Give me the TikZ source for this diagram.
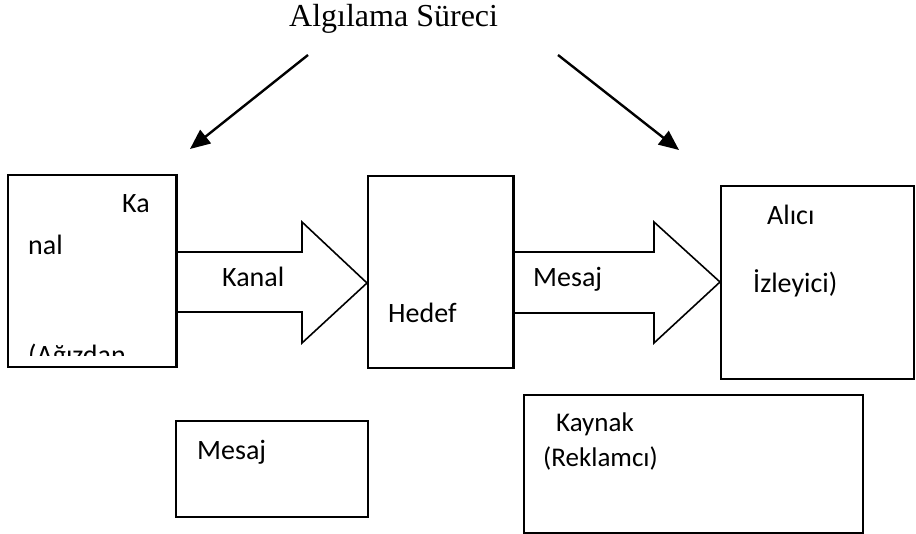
\documentclass[tikz,border=0pt]{standalone}
\usepackage{fontspec}
\setmainfont{Liberation Serif}
\newfontfamily\bodyfont{Carlito}
\usetikzlibrary{arrows.meta}

\tikzset{
  box/.style={draw, line width=2pt, rectangle, inner sep=0pt, anchor=north west},
  lbl/.style={font=\bodyfont\fontsize{28}{32}\selectfont, inner sep=0pt, anchor=base west},
  blockarrow/.style={draw, line width=1.6pt, line join=miter, fill=white},
  pointer/.style={line width=2.4pt, -{Triangle[length=20pt,width=17pt]}}
}

\begin{document}
\begin{tikzpicture}[x=1pt, y=-1pt]
  \useasboundingbox (0,0) rectangle (916,534);

  % title and its two pointers
  \node[font=\fontsize{32}{36}\selectfont, inner sep=0pt, anchor=base west] (title) at (289,27) {Algılama Süreci};
  \coordinate (lstart) at (308,55);
  \coordinate (lend)   at (190,149);
  \coordinate (rstart) at (558,55);
  \coordinate (rend)   at (679,150);
  \draw[pointer] (lstart) -- (lend);
  \draw[pointer] (rstart) -- (rend);

  % boxes
  \node[box, minimum width=168pt, minimum height=192pt] (kanal) at (7,174) {};
  \node[box, minimum width=145pt, minimum height=192pt] (hedef) at (367,175) {};
  \node[box, minimum width=193pt, minimum height=193pt] (alici) at (720,185) {};
  \node[box, minimum width=192pt, minimum height=96pt]  (mesaj) at (175,420) {};
  \node[box, minimum width=339pt, minimum height=138pt] (kaynak) at (523,394) {};

  % block arrows between the boxes
  \draw[blockarrow] (kanal.east |- 0,252) -- (302,252) -- (302,222) -- (hedef.west |- 0,283)
        -- (302,343) -- (302,312) -- (kanal.east |- 0,312);
  \draw[blockarrow] (hedef.east |- 0,252) -- (654,252) -- (654,222) -- (alici.west |- 0,282)
        -- (654,343) -- (654,313) -- (hedef.east |- 0,313);
  \draw[line width=2pt] (kanal.north east) -- (kanal.south east);
  \draw[line width=2pt] (hedef.north east) -- (hedef.south east);

  % texts inside the left box, cut off at its text frame
  \node[lbl] (ka)  at (122,213) {Ka};
  \node[lbl] (nal) at (28,255) {nal};
  \begin{scope}
    \clip (7,174) rectangle (175,356);
    \node[lbl] (agizdan) at (28,365) {(Ağızdan};
  \end{scope}

  % arrow and box labels
  \node[lbl] (kanaltxt) at (222,287) {Kanal};
  \node[lbl] (mesajtxt) at (533,287) {Mesaj};
  \node[lbl] (hedeftxt) at (388,323) {Hedef};
  \node[lbl] (alicitxt) at (767,225) {Alıcı};
  \node[lbl] (izleyici) at (753,293) {İzleyici)};
  \node[lbl] (mesajbox) at (197,460) {Mesaj};
  \node[lbl, font=\bodyfont\fontsize{27}{31}\selectfont] (kaynaktxt) at (556,432) {Kaynak};
  \node[lbl, font=\bodyfont\fontsize{27}{31}\selectfont] (reklamci) at (543,467) {(Reklamcı)};
\end{tikzpicture}
\end{document}
